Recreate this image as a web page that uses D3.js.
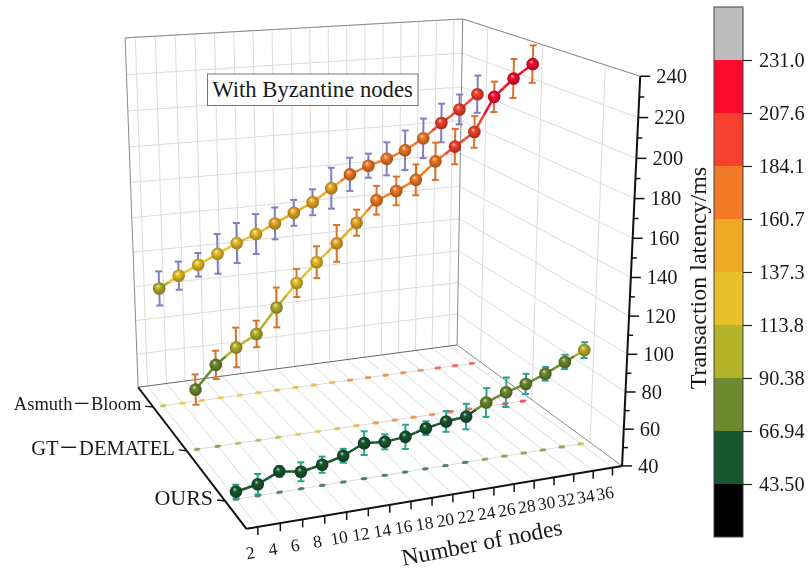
<!DOCTYPE html>
<html>
<head>
  <title>Transaction latency</title>
  <meta charset="UTF-8">
  <script src="https://cdn.jsdelivr.net/npm/d3@7"></script>
  <style>
    body { margin: 0; background: #fff; }
    svg { display: block; filter: blur(0.35px); }
    text { font-family: "Liberation Serif", "Noto Sans CJK SC", serif; fill: #1a1a1a; }
  </style>
</head>
<body>
  <svg id="chart" width="809" height="571"></svg>

  <script>
    const nodes = [2, 4, 6, 8, 10, 12, 14, 16, 18, 20, 22, 24, 26, 28, 30, 32, 34, 36];
    const methods = ['OURS', 'GT\uFF0DDEMATEL', 'Asmuth\uFF0DBloom'];

    const latencyOurs = [44, 46, 51, 49, 51, 54, 59, 58, 59, 62, 64, 65, 71, 75, 78, 82, 87, 92];
    const latencyGt = [73, 85, 93, 99, 112, 124, 134, 143, 153, 164, 168, 173, 182, 189, 196, 214, 223, 230];
    const latencyAsmuth = [108, 114, 119, 124, 129, 133, 138, 143, 148, 155, 162, 166, 169, 173, 179, 187, 194, 202];

    const errorOurs = [3.6, 5.4, 2.8, 5, 4.3, 3.7, 6.3, 4, 6.5, 3.7, 5.6, 6.9, 7.8, 8, 5.5, 3.7, 3.9, 4.3];
    const errorGt = [8.3, 7.7, 10.8, 7.2, 10.8, 7.6, 8.6, 9.9, 7, 7.7, 7.7, 8.3, 10, 9.5, 8.5, 8.1, 10.4, 10];
    const errorAsmuth = [9.7, 8, 6.7, 11.3, 11.4, 11.4, 9.1, 7.4, 7.4, 11.7, 9.5, 6.9, 9.5, 11.4, 11.4, 11.1, 8.6, 10.7];

    const levels = [43.5, 66.94, 90.38, 113.8, 137.3, 160.7, 184.1, 207.6, 231.0];
    const levelLabels = ['43.50', '66.94', '90.38', '113.8', '137.3', '160.7', '184.1', '207.6', '231.0'];
    const levelColors = ['#000000', '#17572f', '#6d8a2f', '#b4b42a', '#e8c029', '#eba925', '#f27a26', '#f5412d', '#fb0a2e', '#bcbcbc'];

    const series = [
      { values: latencyAsmuth, errors: errorAsmuth, method: methods[2], barColor: '#8080c0' },
      { values: latencyGt, errors: errorGt, method: methods[1], barColor: '#d9722a' },
      { values: latencyOurs, errors: errorOurs, method: methods[0], barColor: '#2aa58c' }
    ];

    const svg = d3.select('#chart');

    // unit cube scales
    const x = d3.scaleLinear().domain([1, 37]).range([0, 1]);
    const y = d3.scalePoint().domain(methods).range([0, 1]).padding(0.5);
    const z = d3.scaleLinear().domain([40, 240]).range([0, 1]);
    const color = d3.scaleThreshold().domain(levels).range(levelColors);

    // the box as it sits on the page, corner of unit cube -> screen
    const boxCorners = [
      [0, 0, 0, 246.7, 529], [1, 0, 0, 622, 466], [0, 1, 0, 138, 387], [1, 1, 0, 457, 345],
      [0, 1, 1, 125, 38], [1, 1, 1, 463, 19], [1, 0, 1, 640, 76]
    ];

    function solve(A, b)
    {
      const M = A.map((row, i) => [...row, b[i]]);
      const n = b.length;
      for (let i = 0; i < n; i++)
      {
        let pivot = i;
        for (let k = i + 1; k < n; k++) if (Math.abs(M[k][i]) > Math.abs(M[pivot][i])) pivot = k;
        [M[i], M[pivot]] = [M[pivot], M[i]];
        for (let k = 0; k < n; k++)
        {
          if (k === i) continue;
          const f = M[k][i] / M[i][i];
          for (let j = i; j <= n; j++) M[k][j] -= f * M[i][j];
        }
      }
      return M.map((row, i) => row[n] / row[i]);
    }

    // least squares camera from the corners
    const rows = [];
    const rhs = [];
    boxCorners.forEach(([u, v, w, sx, sy]) =>
    {
      rows.push([u, v, w, 1, 0, 0, 0, 0, -sx * u, -sx * v, -sx * w]);
      rhs.push(sx);
      rows.push([0, 0, 0, 0, u, v, w, 1, -sy * u, -sy * v, -sy * w]);
      rhs.push(sy);
    });
    const cam = solve(
      d3.range(11).map(i => d3.range(11).map(j => d3.sum(rows, r => r[i] * r[j]))),
      d3.range(11).map(i => d3.sum(rows, (r, k) => r[i] * rhs[k]))
    );

    function project(u, v, w)
    {
      const d = cam[8] * u + cam[9] * v + cam[10] * w + 1;
      return [(cam[0] * u + cam[1] * v + cam[2] * w + cam[3]) / d, (cam[4] * u + cam[5] * v + cam[6] * w + cam[7]) / d];
    }

    function line3d(a, b, stroke, width)
    {
      const p = project(...a);
      const q = project(...b);
      return svg.append('line')
        .attr('x1', p[0]).attr('y1', p[1]).attr('x2', q[0]).attr('y2', q[1])
        .attr('stroke', stroke).attr('stroke-width', width);
    }

    // ---- grid ----
    const gridColor = '#dcdcdc';
    const xTicks = d3.range(2, 37, 2);
    const zTicks = d3.range(40, 241, 20);

    xTicks.forEach(t =>
    {
      line3d([x(t), 1, 0], [x(t), 1, 1], gridColor, 1);
      line3d([x(t), 0, 0], [x(t), 1, 0], gridColor, 1);
    });
    zTicks.slice(1).forEach(t =>
    {
      line3d([0, 1, z(t)], [1, 1, z(t)], gridColor, 1);
      line3d([1, 0, z(t)], [1, 1, z(t)], gridColor, 1);
    });
    methods.forEach(m =>
    {
      line3d([1, y(m), 0], [1, y(m), 1], gridColor, 1);
      line3d([x(2), y(m), 0], [x(36), y(m), 0], gridColor, 1);
    });

    // ---- box edges ----
    const edgeColor = '#8a8a8a';
    line3d([0, 1, 0], [0, 1, 1], edgeColor, 1);
    line3d([0, 1, 1], [1, 1, 1], edgeColor, 1);
    line3d([1, 1, 1], [1, 0, 1], edgeColor, 1);
    line3d([1, 1, 0], [1, 1, 1], edgeColor, 1);
    line3d([0, 1, 0], [1, 1, 0], '#666', 1);
    line3d([1, 1, 0], [1, 0, 0], edgeColor, 1);
    line3d([0, 0, 0], [0, 1, 0], '#111', 2);
    line3d([0, 0, 0], [1, 0, 0], '#111', 2);
    line3d([1, 0, 0], [1, 0, 1], '#111', 2);

    // ---- number of nodes axis ----
    xTicks.forEach(t =>
    {
      const p = project(x(t), 0, 0);
      svg.append('line').attr('x1', p[0]).attr('y1', p[1]).attr('x2', p[0]).attr('y2', p[1] + 8)
        .attr('stroke', '#111').attr('stroke-width', 1.5);
      svg.append('text')
        .attr('transform', `translate(${p[0] - 7.5},${p[1] + 25.5}) rotate(-9)`)
        .attr('text-anchor', 'middle').attr('dy', '0.35em')
        .style('font-size', '17.5px').text(t);
    });
    svg.append('text')
      .attr('transform', 'translate(481.7,542) rotate(-11)')
      .attr('text-anchor', 'middle').attr('dy', '0.35em')
      .style('font-size', '23.5px').text('Number of nodes');

    // ---- method axis ----
    const methodFontSize = { [methods[0]]: 22, [methods[1]]: 20.5, [methods[2]]: 18.5 };
    methods.forEach(m =>
    {
      const p = project(0, y(m), 0);
      svg.append('line').attr('x1', p[0] - 8).attr('y1', p[1] - 1).attr('x2', p[0]).attr('y2', p[1])
        .attr('stroke', '#111').attr('stroke-width', 1.5);
      svg.append('text')
        .attr('x', p[0] - 12).attr('y', p[1] - 3)
        .attr('text-anchor', 'end').attr('dy', '0.33em')
        .style('font-size', methodFontSize[m] + 'px').text(m);
    });

    // ---- latency axis ----
    d3.range(40, 241, 10).forEach(t =>
    {
      const p = project(1, 0, z(t));
      const major = t % 20 === 0;
      svg.append('line').attr('x1', p[0]).attr('y1', p[1]).attr('x2', p[0] + (major ? 10 : 5)).attr('y2', p[1])
        .attr('stroke', '#111').attr('stroke-width', 1.5);
      if (major)
      {
        svg.append('text').attr('x', p[0] + 16).attr('y', p[1]).attr('dy', '0.33em')
          .style('font-size', '20.5px').text(t);
      }
    });
    svg.append('text')
      .attr('transform', 'translate(698,278) rotate(-90)')
      .attr('text-anchor', 'middle').attr('dy', '0.33em')
      .style('font-size', '24px').text('Transaction latency/ms');

    // ---- sphere fills, one per colour band ----
    const defs = svg.append('defs');
    levelColors.forEach((c, i) =>
    {
      const g = defs.append('radialGradient').attr('id', `ball${i}`)
        .attr('cx', '50%').attr('cy', '50%').attr('r', '55%').attr('fx', '38%').attr('fy', '30%');
      g.append('stop').attr('offset', '0%').attr('stop-color', d3.interpolateRgb(c, '#fff')(0.75));
      g.append('stop').attr('offset', '30%').attr('stop-color', c);
      g.append('stop').attr('offset', '100%').attr('stop-color', d3.color(c).darker(1.3));
    });

    // ---- shadows on the floor ----
    series.forEach(s =>
    {
      s.values.forEach((value, i) =>
      {
        const p = project(x(nodes[i]), y(s.method), 0);
        svg.append('ellipse')
          .attr('transform', `translate(${p[0]},${p[1]}) rotate(-8)`)
          .attr('rx', 3.4).attr('ry', 1.6)
          .attr('fill', color(value)).attr('opacity', 0.7);
      });
    });

    svg.append('rect').attr('x', 207.5).attr('y', 74).attr('width', 210.5).attr('height', 31.5)
      .attr('fill', '#fff').attr('stroke', '#777').attr('stroke-width', 1);
    svg.append('text').attr('x', 312.5).attr('y', 90).attr('text-anchor', 'middle').attr('dy', '0.33em')
      .style('font-size', '22.7px').text('With Byzantine nodes');

    // ---- series, back to front ----
    series.forEach(s =>
    {
      const v = y(s.method);
      const pts = s.values.map((value, i) => ({ value, error: s.errors[i], p: project(x(nodes[i]), v, z(value)), u: x(nodes[i]) }));

      pts.forEach(d =>
      {
        const top = project(d.u, v, z(d.value + d.error));
        const bottom = project(d.u, v, z(d.value - d.error));
        svg.append('line').attr('x1', top[0]).attr('y1', top[1]).attr('x2', bottom[0]).attr('y2', bottom[1])
          .attr('stroke', s.barColor).attr('stroke-width', 2);
        [top, bottom].forEach(e =>
        {
          svg.append('line').attr('x1', e[0] - 3.5).attr('y1', e[1]).attr('x2', e[0] + 3.5).attr('y2', e[1])
            .attr('stroke', s.barColor).attr('stroke-width', 2);
        });
      });

      // line takes the colour of the nearest point
      d3.pairs(pts).forEach(([a, b]) =>
      {
        const mid = [(a.p[0] + b.p[0]) / 2, (a.p[1] + b.p[1]) / 2];
        [[a.p, mid, a.value], [mid, b.p, b.value]].forEach(([from, to, value]) =>
        {
          svg.append('line').attr('x1', from[0]).attr('y1', from[1]).attr('x2', to[0]).attr('y2', to[1])
            .attr('stroke', color(value)).attr('stroke-width', 2.5);
        });
      });

      pts.forEach(d =>
      {
        svg.append('circle').attr('cx', d.p[0]).attr('cy', d.p[1]).attr('r', 6.3)
          .attr('fill', `url(#ball${levelColors.indexOf(color(d.value))})`);
      });
    });

    // ---- colour bar ----
    const barX = 714;
    const barW = 29;
    const barScale = d3.scalePoint().domain(levelLabels).range([484, 60]);
    const step = barScale.step();

    levelColors.forEach((c, i) =>
    {
      const bottom = i === 0 ? barScale(levelLabels[0]) + step : barScale(levelLabels[i - 1]);
      svg.append('rect').attr('x', barX).attr('y', bottom - step).attr('width', barW).attr('height', step)
        .attr('fill', c);
    });
    svg.append('rect').attr('x', barX).attr('y', 60 - step).attr('width', barW).attr('height', step * 10)
      .attr('fill', 'none').attr('stroke', '#444').attr('stroke-width', 1);

    const barAxis = svg.append('g').attr('transform', `translate(${barX + barW},0)`)
      .call(d3.axisRight(barScale).tickSize(9).tickPadding(7));
    barAxis.select('.domain').remove();
    barAxis.selectAll('line').attr('stroke', '#222').attr('stroke-width', 1.2);
    barAxis.selectAll('text').style('font-size', '20.3px').style('font-family', '"Liberation Serif", serif').attr('fill', '#1a1a1a');
  </script>
</body>
</html>
